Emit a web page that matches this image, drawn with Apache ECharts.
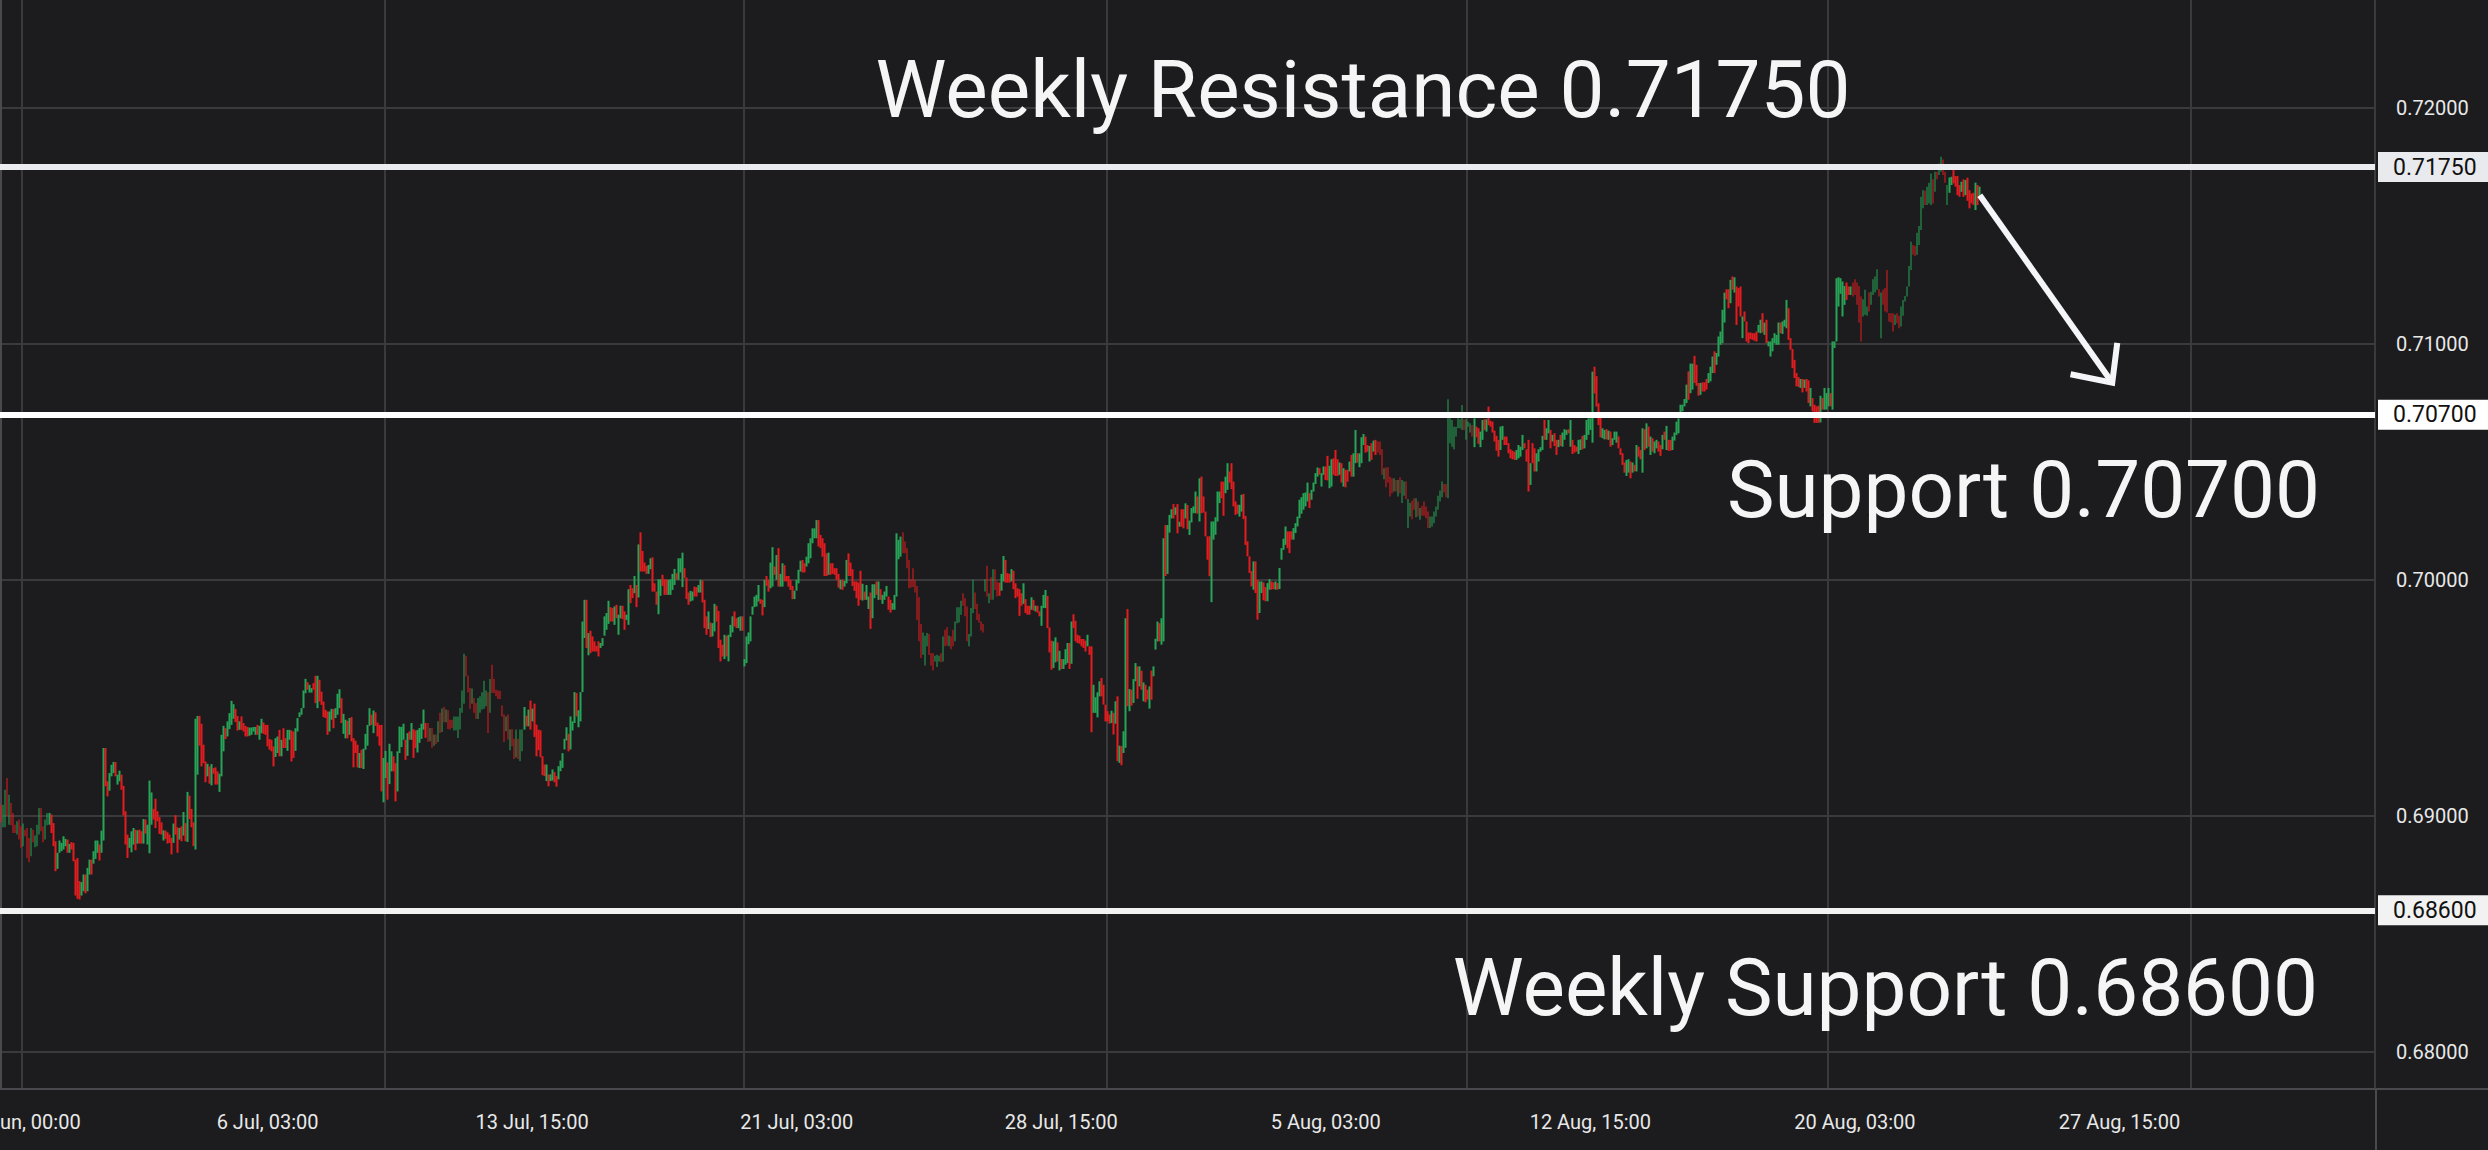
<!DOCTYPE html>
<html><head><meta charset="utf-8">
<script src="https://cdn.jsdelivr.net/npm/echarts@6/dist/echarts.min.js"></script>
<style>html,body{margin:0;padding:0;background:#1c1c1e;overflow:hidden}#c{width:2488px;height:1150px}</style>
</head><body><div id="c"></div>
<script>
const opens=[
0.69048,0.68952,0.68952,0.69161,0.68963,0.69055,0.69013,0.68963,0.68921,0.68985,
0.68956,0.68872,0.68942,0.68949,0.68907,0.68829,0.68942,0.68868,0.68872,0.68921,
0.69034,0.68956,0.68900,0.68961,0.68963,0.69006,0.68970,0.68893,0.68776,0.68844,
0.68851,0.68858,0.68872,0.68900,0.68844,0.68889,0.68886,0.68815,0.68822,0.68724,
0.68663,0.68681,0.68752,0.68681,0.68752,0.68815,0.68798,0.68818,0.68844,0.68879,
0.68844,0.68896,0.69288,0.69147,0.69107,0.69168,0.69182,0.69229,0.69133,0.69147,
0.69175,0.69128,0.69020,0.68921,0.68865,0.68846,0.68879,0.68942,0.68883,0.68942,
0.68935,0.68883,0.68985,0.68879,0.68842,0.68963,0.69030,0.69073,0.69020,0.68995,
0.68973,0.68896,0.68938,0.68931,0.68921,0.68907,0.68886,0.69003,0.68952,0.68900,
0.68956,0.68917,0.68970,0.68890,0.69086,0.69030,0.68973,0.68858,0.69175,0.69424,
0.69391,0.69302,0.69231,0.69168,0.69210,0.69130,0.69203,0.69206,0.69189,0.69102,
0.69168,0.69274,0.69372,0.69337,0.69368,0.69386,0.69412,0.69454,0.69424,0.69365,
0.69422,0.69394,0.69382,0.69377,0.69340,0.69344,0.69358,0.69344,0.69386,0.69323,
0.69351,0.69396,0.69386,0.69386,0.69326,0.69323,0.69295,0.69250,0.69267,0.69365,
0.69253,0.69372,0.69330,0.69276,0.69323,0.69362,0.69358,0.69276,0.69358,0.69419,
0.69429,0.69457,0.69520,0.69567,0.69523,0.69523,0.69563,0.69594,0.69457,0.69577,
0.69527,0.69485,0.69450,0.69443,0.69358,0.69408,0.69453,0.69415,0.69429,0.69457,
0.69499,0.69348,0.69329,0.69403,0.69344,0.69419,0.69330,0.69319,0.69302,0.69203,
0.69281,0.69199,0.69281,0.69298,0.69382,0.69429,0.69351,0.69439,0.69396,0.69386,
0.69386,0.69058,0.69161,0.69227,0.69135,0.69189,0.69253,0.69224,0.69104,0.69267,
0.69292,0.69323,0.69323,0.69255,0.69358,0.69323,0.69368,0.69362,0.69269,
0.69310,0.69327,0.69366,0.69394,0.69394,0.69317,0.69373,0.69298,0.69345,0.69313,
0.69437,0.69356,0.69462,0.69397,0.69448,0.69408,0.69408,0.69362,0.69363,0.69331,
0.69366,0.69437,0.69476,0.69679,0.69595,0.69542,0.69476,0.69500,0.69479,0.69411,
0.69437,0.69451,0.69454,0.69465,0.69524,0.69437,0.69641,0.69582,0.69535,0.69532,
0.69531,0.69468,0.69430,0.69359,0.69430,0.69279,0.69369,0.69327,0.69248,0.69327,
0.69232,0.69274,0.69366,0.69425,0.69380,0.69489,0.69401,0.69476,0.69387,0.69366,
0.69363,0.69253,0.69218,0.69148,0.69176,0.69148,0.69150,0.69186,0.69169,0.69155,
0.69190,0.69204,0.69282,0.69320,0.69348,0.69282,0.69362,0.69394,0.69521,0.69376,
0.69401,0.69525,0.69754,0.69916,0.69681,0.69785,0.69761,0.69740,0.69721,0.69740,
0.69712,0.69721,0.69764,0.69789,0.69814,0.69885,0.69881,0.69810,0.69895,0.69768,
0.69838,0.69891,0.69867,0.69831,0.69810,0.69979,0.69965,0.69944,0.69979,0.69926,
0.70202,0.70123,0.70074,0.70060,0.70026,0.70046,0.70096,0.69986,0.69951,0.69855,
0.69933,0.70022,0.70003,0.70003,0.69937,0.69937,0.69958,0.69979,0.70029,0.70001,
0.70032,0.69970,0.70050,0.70010,0.69947,0.69909,0.69913,0.69972,0.69970,0.69947,
0.69947,0.69998,0.69916,0.69846,0.69792,0.69820,0.69761,0.69782,0.69891,0.69869,
0.69747,0.69726,0.69665,0.69764,0.69655,0.69758,0.69778,0.69867,0.69838,0.69796,
0.69785,0.69846,0.69634,0.69648,0.69728,0.69740,0.69853,0.69885,0.69888,0.69909,
0.69919,0.69916,0.69885,0.70017,0.70001,0.69965,0.69972,0.70057,0.70001,0.70135,
0.69972,0.69972,0.70063,0.70017,0.70017,0.70001,0.69975,0.69919,0.69955,0.69986,
0.70036,0.70085,0.70071,0.70057,0.70071,0.70092,0.70156,0.70177,0.70177,0.70254,
0.70191,0.70177,0.70156,0.70113,0.70022,0.70071,0.70071,0.70050,0.70050,0.70026,
0.69961,0.70001,0.69972,0.69986,0.70113,0.70074,0.70046,0.69994,0.69994,0.69989,
0.70039,0.69913,0.69951,0.69916,0.69877,0.69947,0.69838,0.69923,0.69994,0.69916,
0.69961,0.69899,0.69916,0.69930,0.69930,0.69916,0.69874,0.69874,0.69930,0.70088,
0.70099,0.70202,0.70163,0.70135,0.70085,0.70003,0.70050,0.70001,0.69975,0.69927,
0.69814,0.69683,0.69638,0.69719,0.69771,0.69690,0.69690,0.69655,0.69631,0.69655,
0.69690,0.69655,0.69789,0.69800,0.69719,0.69761,0.69789,0.69740,0.69817,0.69820,
0.69853,0.69944,0.69923,0.69888,0.69719,0.69761,0.69860,0.69947,0.69899,0.69857,
0.69824,0.69814,0.69951,0.70060,0.69902,0.70012,0.69916,0.70046,0.69994,0.69989,
0.69955,0.69994,0.70085,0.70029,0.70026,0.69994,0.70039,0.69986,0.69965,0.69961,
0.69944,0.69899,0.69919,0.69891,0.69891,0.69874,0.69916,0.69867,0.69891,0.69867,
0.69806,0.69881,0.69881,0.69933,0.69799,0.69743,0.69627,0.69651,0.69736,0.69617,
0.69665,0.69623,0.69641,0.69648,0.69733,0.69645,0.69855,0.69827,0.69768,0.69764,
0.69750,0.69750,0.69743,0.69719,0.69719,0.69719,0.69437,0.69437,0.69418,0.69507,
0.69585,0.69556,0.69472,0.69444,0.69430,0.69394,0.69437,0.69391,0.69507,0.69225,
0.69296,0.69267,0.69289,0.69877,0.69444,0.69535,0.69479,0.69571,0.69634,0.69549,
0.69616,0.69486,0.69556,0.69535,0.69455,0.69616,0.69592,0.69705,0.69740,0.69817,
0.69726,0.69740,0.70233,0.70026,0.70201,0.70261,0.70322,0.70276,0.70322,0.70226,
0.70300,0.70300,0.70261,0.70318,0.70191,
0.70244,0.70283,0.70283,0.70354,0.70248,0.70438,0.70354,0.70290,0.70185,0.70185,
0.69906,0.70171,0.70192,0.70248,0.70326,0.70417,0.70417,0.70368,0.70382,0.70460,
0.70495,0.70417,0.70333,0.70319,0.70269,0.70290,0.70365,0.70272,0.70164,0.70100,
0.70037,0.69959,0.70079,0.70001,0.69860,0.69945,0.69990,0.69970,0.69910,0.69959,
0.69994,0.69990,0.69959,0.69987,0.69962,0.70086,0.70128,0.70149,0.70206,0.70206,
0.70206,0.70171,0.70199,0.70227,0.70262,0.70281,0.70298,0.70312,0.70333,0.70368,
0.70340,0.70375,0.70407,0.70438,0.70474,0.70396,0.70446,0.70481,0.70526,0.70389,
0.70396,0.70516,0.70551,0.70512,0.70446,0.70495,0.70396,0.70467,0.70467,0.70460,
0.70530,0.70438,0.70495,0.70537,0.70478,0.70495,0.70572,0.70608,0.70572,0.70502,
0.70580,0.70544,0.70594,0.70587,0.70587,0.70554,0.70427,0.70478,0.70478,0.70438,
0.70431,0.70375,0.70424,0.70354,0.70436,0.70326,0.70357,0.70417,0.70220,0.70269,
0.70336,0.70347,0.70266,0.70333,0.70255,0.70314,0.70333,0.70312,0.70290,0.70220,
0.70227,0.70241,0.70269,0.70298,0.70333,0.70351,0.70407,0.70407,0.70347,0.70580,
0.70565,0.70554,0.70608,0.70643,0.70643,0.70636,0.70681,0.70594,0.70650,0.70625,
0.70657,0.70563,0.70650,0.70643,0.70563,0.70594,0.70681,0.70629,0.70735,0.70675,
0.70671,0.70633,0.70611,0.70594,0.70551,0.70594,0.70608,0.70608,0.70580,0.70554,
0.70548,0.70544,0.70509,0.70516,0.70523,0.70551,0.70580,0.70554,0.70594,0.70403,
0.70580,0.70558,0.70460,0.70502,0.70544,0.70551,0.70678,0.70594,0.70622,0.70636,
0.70587,0.70622,0.70594,0.70563,0.70615,0.70565,0.70594,0.70615,0.70639,0.70565,
0.70594,0.70572,0.70565,0.70534,0.70551,0.70611,0.70558,0.70594,0.70615,0.70636,
0.70582,0.70904,0.70864,0.70749,0.70699,0.70601,0.70596,0.70639,0.70594,0.70629,
0.70572,0.70594,0.70582,0.70608,0.70558,0.70537,0.70498,0.70441,0.70455,0.70502,
0.70455,0.70488,0.70460,0.70565,0.70551,0.70455,0.70639,0.70558,0.70650,0.70530,
0.70601,0.70537,0.70558,0.70587,0.70572,0.70554,0.70629,0.70551,0.70594,0.70594,
0.70551,0.70591,0.70615,0.70622,
0.70687,0.70715,0.70736,0.70750,0.70884,0.70792,0.70807,0.70950,0.70912,0.70835,
0.70785,0.70838,0.70838,0.70852,0.70835,0.70842,0.70877,0.70969,0.70912,0.70947,
0.70997,0.71004,0.71091,0.71232,0.71232,0.71173,0.71286,0.71218,0.71244,0.71237,
0.71244,0.71025,0.71138,0.71096,0.71049,0.71049,0.71046,0.71046,0.71053,0.71049,
0.71046,0.71131,0.71039,0.71103,0.70990,0.70947,0.70969,0.71004,0.70997,0.70997,
0.71091,0.71043,0.71074,0.71067,0.71152,0.71025,0.70979,0.70933,0.70877,0.70860,
0.70814,0.70852,0.70814,0.70852,0.70846,0.70736,0.70771,0.70743,0.70736,0.70739,
0.70668,0.70771,0.70722,0.70722,0.70736,0.70792,0.70722,0.70983,0.71011,0.71159,
0.71213,0.71117,0.71166,0.71261,0.71244,0.71208,0.71261,0.71275,0.71261,0.71246,
0.71201,0.71117,0.71124,0.71120,0.71218,0.71166,0.71208,0.71218,0.71230,0.71232,
0.71025,0.71230,0.71237,0.71314,0.71131,0.71131,0.71131,0.71081,0.71131,0.71120,
0.71074,0.71120,0.71180,0.71201,0.71244,0.71314,0.71420,0.71416,0.71378,0.71420,
0.71483,0.71575,0.71650,0.71589,0.71596,0.71589,0.71698,0.71645,0.71730,0.71716,
0.71730,0.71782,0.71730,0.71589,0.71641,0.71674,0.71737,0.71712,0.71712,0.71674,
0.71645,0.71698,0.71631,0.71705,0.71652,0.71638,0.71641,0.71568,0.71674,0.71617
];
const closes=[
0.68973,0.69048,0.69111,0.68999,0.69090,0.68961,0.68928,0.68928,0.68978,0.68900,
0.68865,0.68968,0.68914,0.68822,0.68804,0.68949,0.68889,0.68917,0.68963,0.69034,
0.68935,0.68889,0.68985,0.69013,0.69013,0.68928,0.68872,0.68766,0.68844,0.68896,
0.68886,0.68914,0.68903,0.68844,0.68882,0.68858,0.68808,0.68663,0.68649,0.68646,
0.68720,0.68752,0.68672,0.68780,0.68815,0.68752,0.68851,0.68896,0.68896,0.68811,
0.68938,0.69288,0.69126,0.69083,0.69182,0.69217,0.69229,0.69168,0.69175,0.69192,
0.69111,0.69003,0.68879,0.68822,0.68907,0.68935,0.68949,0.68855,0.68939,0.68883,
0.68883,0.68987,0.68925,0.68963,0.69150,0.69100,0.68985,0.68949,0.68978,0.68924,
0.68921,0.68939,0.68903,0.68883,0.68886,0.68837,0.68968,0.68921,0.68844,0.68949,
0.68893,0.69017,0.68893,0.69102,0.68987,0.68952,0.68872,0.69412,0.69424,0.69298,
0.69210,0.69224,0.69143,0.69221,0.69137,0.69220,0.69179,0.69133,0.69133,0.69179,
0.69344,0.69382,0.69326,0.69401,0.69436,0.69488,0.69474,0.69398,0.69362,0.69401,
0.69365,0.69358,0.69337,0.69337,0.69375,0.69375,0.69377,0.69377,0.69344,0.69382,
0.69412,0.69348,0.69344,0.69295,0.69281,0.69274,0.69210,0.69330,0.69337,0.69253,
0.69323,0.69288,0.69288,0.69365,0.69365,0.69231,0.69246,0.69372,0.69415,0.69439,
0.69457,0.69532,0.69581,0.69535,0.69556,0.69542,0.69535,0.69478,0.69594,0.69485,
0.69471,0.69419,0.69415,0.69344,0.69443,0.69454,0.69372,0.69457,0.69518,0.69537,
0.69394,0.69433,0.69408,0.69329,0.69415,0.69316,0.69206,0.69267,0.69206,0.69267,
0.69203,0.69285,0.69348,0.69386,0.69457,0.69386,0.69447,0.69382,0.69337,0.69298,
0.69104,0.69246,0.69276,0.69069,0.69306,0.69274,0.69189,0.69062,0.69274,0.69379,
0.69377,0.69391,0.69238,0.69351,0.69323,0.69394,0.69246,0.69288,0.69365,
0.69373,0.69391,0.69451,0.69331,0.69313,0.69373,0.69289,0.69345,0.69305,0.69401,
0.69352,0.69455,0.69397,0.69451,0.69369,0.69366,0.69373,0.69422,0.69422,0.69422,
0.69458,0.69532,0.69688,0.69592,0.69524,0.69454,0.69540,0.69437,0.69411,0.69500,
0.69507,0.69524,0.69573,0.69532,0.69352,0.69580,0.69521,0.69521,0.69507,0.69496,
0.69496,0.69422,0.69313,0.69422,0.69324,0.69366,0.69296,0.69241,0.69366,0.69242,
0.69366,0.69366,0.69462,0.69380,0.69451,0.69366,0.69455,0.69335,0.69253,0.69279,
0.69249,0.69173,0.69169,0.69218,0.69126,0.69176,0.69197,0.69143,0.69124,0.69211,
0.69235,0.69266,0.69327,0.69376,0.69274,0.69422,0.69401,0.69525,0.69422,0.69448,
0.69525,0.69824,0.69916,0.69712,0.69775,0.69690,0.69697,0.69697,0.69697,0.69676,
0.69733,0.69754,0.69846,0.69860,0.69912,0.69824,0.69824,0.69888,0.69838,0.69853,
0.69891,0.69834,0.69789,0.69853,0.69961,0.69902,0.69923,0.70017,0.69885,0.70151,
0.70036,0.70036,0.70036,0.70026,0.70064,0.70092,0.69951,0.69951,0.69895,0.70003,
0.70003,0.69975,0.69937,0.69937,0.70001,0.70003,0.70026,0.70047,0.70001,0.70092,
0.70092,0.70116,0.70008,0.69919,0.69895,0.69954,0.69951,0.69930,0.69930,0.69979,
0.70001,0.69905,0.69796,0.69768,0.69867,0.69758,0.69817,0.69899,0.69824,0.69712,
0.69655,0.69676,0.69768,0.69676,0.69768,0.69810,0.69846,0.69803,0.69796,0.69843,
0.69846,0.69785,0.69665,0.69761,0.69778,0.69846,0.69888,0.69930,0.69937,0.69979,
0.69899,0.69850,0.70001,0.69975,0.69951,0.70074,0.70139,0.70022,0.70106,0.69972,
0.70026,0.70071,0.69994,0.69994,0.69972,0.69958,0.69919,0.69955,0.70001,0.70043,
0.70082,0.70032,0.70032,0.70099,0.70156,0.70177,0.70219,0.70219,0.70254,0.70142,
0.70135,0.70099,0.70017,0.70017,0.70116,0.70022,0.70026,0.70022,0.70001,0.69968,
0.70001,0.69958,0.69996,0.70085,0.70017,0.70017,0.69975,0.69954,0.69923,0.69891,
0.69916,0.69984,0.69916,0.69979,0.69930,0.69793,0.69982,0.69982,0.69937,0.69994,
0.69916,0.69937,0.69951,0.69975,0.69874,0.69862,0.69902,0.69937,0.70198,0.70170,
0.70184,0.70113,0.70113,0.70050,0.69965,0.69968,0.69970,0.69947,0.69831,0.69740,
0.69669,0.69778,0.69764,0.69775,0.69683,0.69637,0.69617,0.69679,0.69683,0.69679,
0.69652,0.69761,0.69719,0.69723,0.69764,0.69707,0.69719,0.69824,0.69885,0.69885,
0.69912,0.69891,0.69846,0.69740,0.69771,0.69881,0.70001,0.69877,0.69831,0.69820,
0.69786,0.69778,0.70003,0.69930,0.69944,0.69916,0.70046,0.69958,0.69930,0.69933,
0.70026,0.70102,0.69989,0.69989,0.69989,0.70046,0.69961,0.69923,0.69930,0.69848,
0.69891,0.69986,0.69860,0.69853,0.69853,0.69927,0.69871,0.69891,0.69862,0.69846,
0.69891,0.69937,0.69958,0.69796,0.69693,0.69620,0.69740,0.69757,0.69655,0.69700,
0.69623,0.69665,0.69707,0.69733,0.69623,0.69824,0.69796,0.69740,0.69733,0.69730,
0.69719,0.69712,0.69697,0.69768,0.69683,0.69355,0.69556,0.69503,0.69524,0.69571,
0.69507,0.69472,0.69401,0.69401,0.69391,0.69446,0.69345,0.69486,0.69232,0.69298,
0.69215,0.69359,0.69838,0.69465,0.69538,0.69468,0.69580,0.69648,0.69497,0.69634,
0.69535,0.69566,0.69482,0.69493,0.69549,0.69493,0.69634,0.69751,0.69824,0.69740,
0.69838,0.70177,0.70017,0.70233,0.70276,0.70300,0.70261,0.70308,0.70198,0.70247,
0.70226,0.70219,0.70325,0.70215,0.70252,
0.70305,0.70312,0.70375,0.70281,0.70431,0.70283,0.70286,0.70185,0.70086,0.70016,
0.70248,0.70248,0.70266,0.70375,0.70375,0.70347,0.70272,0.70438,0.70495,0.70413,
0.70385,0.70312,0.70276,0.70281,0.70319,0.70361,0.70258,0.70149,0.70100,0.70030,
0.69973,0.70079,0.69945,0.69832,0.69994,0.69994,0.69914,0.69910,0.69987,0.70004,
0.69959,0.69962,0.69994,0.69959,0.70051,0.70135,0.70175,0.70227,0.70135,0.70114,
0.70171,0.70220,0.70241,0.70269,0.70340,0.70351,0.70368,0.70371,0.70413,0.70305,
0.70382,0.70413,0.70453,0.70477,0.70446,0.70453,0.70481,0.70424,0.70422,0.70484,
0.70512,0.70446,0.70441,0.70441,0.70498,0.70413,0.70474,0.70393,0.70417,0.70502,
0.70438,0.70537,0.70636,0.70498,0.70537,0.70605,0.70619,0.70540,0.70544,0.70568,
0.70509,0.70591,0.70530,0.70540,0.70530,0.70446,0.70474,0.70393,0.70413,0.70354,
0.70368,0.70431,0.70375,0.70424,0.70368,0.70424,0.70417,0.70343,0.70343,0.70326,
0.70258,0.70298,0.70347,0.70269,0.70305,0.70272,0.70272,0.70262,0.70220,0.70269,
0.70269,0.70290,0.70312,0.70357,0.70379,0.70417,0.70371,0.70351,0.70766,0.70685,
0.70678,0.70650,0.70650,0.70685,0.70681,0.70742,0.70636,0.70681,0.70671,0.70664,
0.70608,0.70685,0.70605,0.70577,0.70629,0.70678,0.70636,0.70681,0.70657,0.70650,
0.70625,0.70587,0.70548,0.70523,0.70650,0.70653,0.70572,0.70572,0.70537,0.70516,
0.70512,0.70509,0.70551,0.70572,0.70565,0.70615,0.70558,0.70502,0.70375,0.70495,
0.70495,0.70460,0.70537,0.70554,0.70563,0.70611,0.70594,0.70643,0.70678,0.70558,
0.70615,0.70568,0.70530,0.70594,0.70568,0.70625,0.70639,0.70636,0.70622,0.70678,
0.70534,0.70540,0.70544,0.70594,0.70596,0.70554,0.70615,0.70678,0.70685,0.70685,
0.70883,0.70791,0.70735,0.70657,0.70605,0.70643,0.70636,0.70596,0.70633,0.70565,
0.70601,0.70629,0.70629,0.70558,0.70530,0.70488,0.70455,0.70509,0.70512,0.70431,
0.70498,0.70460,0.70572,0.70523,0.70512,0.70643,0.70551,0.70664,0.70565,0.70608,
0.70544,0.70587,0.70594,0.70544,0.70526,0.70615,0.70594,0.70653,0.70548,0.70548,
0.70608,0.70625,0.70671,0.70685,
0.70743,0.70743,0.70767,0.70828,0.70764,0.70917,0.70917,0.70835,0.70823,0.70781,
0.70835,0.70799,0.70799,0.70807,0.70877,0.70904,0.70947,0.70877,0.70962,0.71032,
0.71053,0.71145,0.71218,0.71190,0.71152,0.71272,0.71230,0.71283,0.71081,0.71159,
0.71117,0.71117,0.71096,0.71011,0.71004,0.71021,0.71018,0.71014,0.71011,0.71081,
0.71103,0.71049,0.71091,0.71004,0.71011,0.71011,0.71025,0.71046,0.71039,0.71091,
0.71046,0.71096,0.71103,0.71187,0.71018,0.70976,0.70898,0.70856,0.70821,0.70818,
0.70852,0.70795,0.70849,0.70799,0.70750,0.70814,0.70715,0.70666,0.70666,0.70666,
0.70781,0.70722,0.70814,0.70792,0.70814,0.70736,0.71011,0.71011,0.71279,0.71283,
0.71279,0.71265,0.71246,0.71187,0.71208,0.71244,0.71201,0.71208,0.71166,0.71091,
0.71011,0.71190,0.71230,0.71159,0.71138,0.71222,0.71275,0.71286,0.71317,0.71201,
0.71218,0.71166,0.71138,0.71134,0.71096,0.71091,0.71053,0.71124,0.71088,0.71067,
0.71159,0.71187,0.71204,0.71244,0.71331,0.71434,0.71378,0.71373,0.71472,0.71500,
0.71624,0.71652,0.71589,0.71667,0.71684,0.71723,0.71596,0.71730,0.71698,0.71765,
0.71794,0.71716,0.71684,0.71674,0.71706,0.71709,0.71681,0.71667,0.71631,0.71624,
0.71688,0.71624,0.71695,0.71607,0.71575,0.71596,0.71589,0.71684,0.71589,0.71667
];
const slotCount = 1185;
const xLabelIndex = [10, 133, 265, 397, 529, 661, 793, 925, 1057];
const xLabels = ['29 Jun, 00:00','6 Jul, 03:00','13 Jul, 15:00','21 Jul, 03:00','28 Jul, 15:00','5 Aug, 03:00','12 Aug, 15:00','20 Aug, 03:00','27 Aug, 15:00'];
const xGridIndex = [11, 192, 371, 552, 732, 912, 1093];
const yTicks = [0.68, 0.69, 0.70, 0.71, 0.72];
const levels = [0.7175, 0.707, 0.686];
const levelTexts = ['Weekly Resistance 0.71750', 'Support 0.70700', 'Weekly Support 0.68600'];
const arrowShaft = [[987.3, 0.71631], [1053.4, 0.70836]];
const arrowHead = [[1032.6, 0.70872], [1053.4, 0.70836], [1055.9, 0.71005]];

const BG = '#1c1c1e', GRIDC = '#3a3a3d', AXISC = '#4a4a4e', TXT = '#e8e8e8';
const UP = '#26a556', DOWN = '#e51c1f';
const lineColors = ['#ebecf0', '#ffffff', '#f2f2f2'];
const boxColors = ['#e9eaee', '#ffffff', '#f2f2f2'];

const categories = Array.from({length: slotCount}, (_, i) => String(i));
const candleData = opens.map((o, i) => [o, closes[i], Math.min(o, closes[i]), Math.max(o, closes[i])]);

const chart = echarts.init(document.getElementById('c'), null, {renderer: 'svg', width: 2488, height: 1150});
chart.setOption({
  backgroundColor: BG,
  animation: false,
  grid: {left: 0, right: 113, top: 0, bottom: 61, containLabel: false, outerBoundsMode: 'none'},
  xAxis: [{
    type: 'category', data: categories, boundaryGap: true,
    axisLine: {show: true, lineStyle: {color: AXISC, width: 2}},
    axisTick: {show: false},
    axisLabel: {
      interval: (idx) => xLabelIndex.includes(idx),
      formatter: (v, idx) => { const k = xLabelIndex.indexOf(idx); return k >= 0 ? xLabels[k] : ''; },
      color: TXT, fontSize: 20, fontFamily: 'Roboto', margin: 23
    },
    splitLine: {show: true, interval: (idx) => xGridIndex.includes(idx), lineStyle: {color: GRIDC, width: 2}}
  }, {
    type: 'value', min: -0.5, max: slotCount - 0.5, show: false
  }],
  yAxis: [{
    type: 'value', position: 'right', min: 0.67843, max: 0.72458, scale: true,
    axisLine: {show: true, lineStyle: {color: AXISC, width: 2}},
    axisTick: {show: false, customValues: yTicks},
    axisLabel: {customValues: yTicks, color: TXT, fontSize: 20, fontFamily: 'Roboto', margin: 21,
      formatter: (v) => v.toFixed(5)},
    splitLine: {show: true, lineStyle: {color: GRIDC, width: 2}}
  }],
  series: [{
    type: 'candlestick', xAxisIndex: 0, yAxisIndex: 0, data: candleData,
    barWidth: 2.3, large: false,
    itemStyle: {color: UP, color0: DOWN, borderColor: UP, borderColor0: DOWN, borderWidth: 0},
    markLine: {
      symbol: ['none', 'none'], silent: true, animation: false, z: 4, precision: 5,
      data: levels.map((v, i) => ({
        yAxis: v,
        lineStyle: {color: lineColors[i], width: 6, type: 'solid'},
        label: {show: true, position: 'end', distance: 3, formatter: () => v.toFixed(5),
          backgroundColor: boxColors[i], color: '#111111', fontSize: 23, fontFamily: 'Roboto',
          padding: [4, 8, 3, 15], width: 87, align: 'left'}
      }))
    }
  }, {
    type: 'line', xAxisIndex: 1, yAxisIndex: 0, data: arrowShaft, showSymbol: false, symbol: 'none',
    lineStyle: {color: '#f4f5f8', width: 6, cap: 'butt'}, z: 6, silent: true
  }, {
    type: 'line', xAxisIndex: 1, yAxisIndex: 0, data: arrowHead, showSymbol: false, symbol: 'none',
    lineStyle: {color: '#f4f5f8', width: 6, cap: 'butt', join: 'miter'}, z: 6, silent: true
  }],
  graphic: [
    {type: 'line', silent: true, shape: {x1: 2376, y1: 1089, x2: 2376, y2: 1150}, style: {stroke: AXISC, lineWidth: 2}},
    {type: 'line', silent: true, shape: {x1: 2375, y1: 1089, x2: 2488, y2: 1089}, style: {stroke: AXISC, lineWidth: 2}},
    {type: 'text', silent: true, x: 1363, y: 90, z: 10, style: {text: levelTexts[0], font: '80px Roboto', fill: '#f5f5f5', align: 'center', verticalAlign: 'middle'}},
    {type: 'text', silent: true, x: 2320, y: 490, z: 10, style: {text: levelTexts[1], font: '80px Roboto', fill: '#f5f5f5', align: 'right', verticalAlign: 'middle'}},
    {type: 'text', silent: true, x: 2318, y: 988, z: 10, style: {text: levelTexts[2], font: '80px Roboto', fill: '#f5f5f5', align: 'right', verticalAlign: 'middle'}}
  ]
});
</script>
</body></html>
